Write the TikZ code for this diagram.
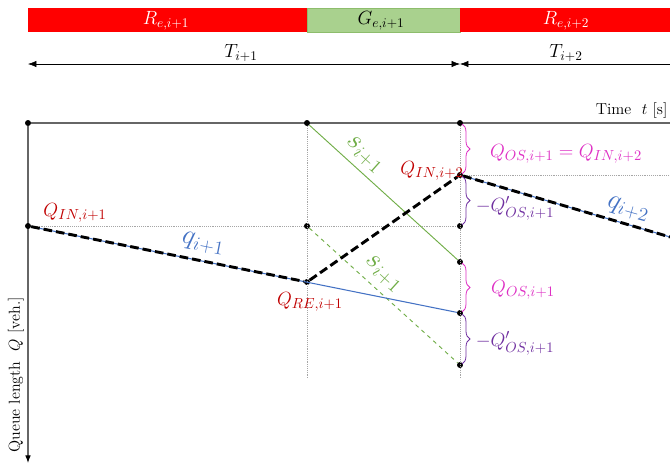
\documentclass[tikz,border=0pt]{standalone}
\usepackage{amsmath}
\usetikzlibrary{arrows.meta,decorations.pathreplacing}
\definecolor{sigred}{HTML}{FF0000}
\definecolor{siggreen}{HTML}{A9D18E}
\definecolor{lblred}{HTML}{C00000}
\definecolor{lblblue}{HTML}{4472C4}
\definecolor{lblgreen}{HTML}{70AD47}
\definecolor{lblpink}{HTML}{DE2FC4}
\definecolor{lblpurple}{HTML}{7030A0}

\begin{document}
\begin{tikzpicture}[x=0.2646mm, y=-0.2646mm,
  dot/.style={circle, fill=black, minimum size=4.5pt, inner sep=0pt},
  barlbl/.style={font=\Large, inner sep=0pt},
  lbl/.style={font=\fontsize{15}{18}\selectfont, inner sep=1pt},
  biglbl/.style={font=\huge, inner sep=1pt},
  span/.style={thin, {Latex[length=2.2mm]}-{Latex[length=2.2mm]}},
  axis/.style={gray!80!black, thick},
  grid/.style={gray!70, densely dotted, thin},
  queue/.style={black, line width=2.2pt, dash pattern=on 6.5pt off 3pt},
  arrival/.style={lblblue, line width=0.8pt},
  sat/.style={lblgreen, line width=0.7pt},
  brc/.style={decorate, decoration={brace, amplitude=6pt}, line width=0.6pt},
]

\useasboundingbox (0,0) rectangle (670,463);

\fill[sigred] (28,8) rectangle (307,32);
\filldraw[fill=siggreen, draw=lblgreen!80, line width=0.4pt] (307,8) rectangle (460,32);
\fill[sigred] (460,8) rectangle (670,32);
\node[barlbl, text=white] (r1) at (166,21) {$R_{e,i+1}$};
\node[barlbl] (g1) at (381,21) {$G_{e,i+1}$};
\node[barlbl, text=white] (r2) at (566,21) {$R_{e,i+2}$};

\coordinate (t0) at (28,64);
\coordinate (t1) at (460,64);
\coordinate (t2) at (670,64);
\draw[span] (t0) -- (t1);
\draw[thin, {Latex[length=2.2mm]}-] (t1) -- (t2);
\node[barlbl] (T1) at (241,53) {$T_{i+1}$};
\node[barlbl] (T2) at (566,53) {$T_{i+2}$};

\node[dot] (o) at (28,123) {};
\coordinate (tend) at (670,123);
\coordinate (qend) at (28,463);
\draw[axis] (o) -- (tend);
\draw[axis, -{Latex[length=2mm, black]}] (o) -- (qend);
\node[font=\large, anchor=south east, inner sep=1pt] (tlbl) at (669,120) {Time~~$t$ [s]};
\node[font=\large, rotate=90, inner sep=1pt] (qlbl) at (16,375) {Queue length~~$Q$ [veh.]};

\node[dot] (a1) at (307,123) {};
\node[dot] (a2) at (460,123) {};
\node[dot] (qin1) at (28,226) {};
\node[dot] (b1) at (307,226) {};
\node[dot] (b2) at (460,226) {};
\node[dot] (qre) at (307,282) {};
\node[dot] (qin2) at (460,175) {};
\node[dot] (c1) at (460,262) {};
\node[dot] (c2) at (460,313) {};
\node[dot] (c3) at (460,365) {};
\coordinate (a1low) at (307,378);
\coordinate (a2low) at (460,378);
\coordinate (hright) at (670,175);
\coordinate (qend2) at (670,237);

\draw[grid] (qin1) -- (b1) -- (b2);
\draw[grid] (a1) -- (a1low);
\draw[grid] (a2) -- (a2low);
\draw[grid] (qin2) -- (hright);

\draw[sat] (a1) -- (c1);
\draw[sat, dashed] (b1) -- (c3);
\draw[arrival] (qin1) -- (c2);
\draw[arrival] (qin2) -- (qend2);
\draw[queue] (qin1) -- (qre) -- (qin2) -- (qend2);

\draw[brc, lblpink] (462,124) -- (462,174);
\draw[brc, lblpurple] (462,176) -- (462,225);
\draw[brc, lblpink] (462,263) -- (462,312);
\draw[brc, lblpurple] (462,314) -- (462,364);

\node[lbl, text=lblred] (l1) at (75,213) {$Q_{IN,i+1}$};
\node[biglbl, text=lblblue, rotate=-11] (l2) at (203,244) {$q_{i+1}$};
\node[lbl, text=lblred] (l3) at (310,302) {$Q_{RE,i+1}$};
\node[lbl, text=lblred] (l4) at (432,171) {$Q_{IN,i+2}$};
\node[biglbl, text=lblgreen, rotate=-42] (l5) at (364,155) {$s_{i+1}$};
\node[biglbl, text=lblgreen, rotate=-42] (l6) at (383,274) {$s_{i+1}$};
\node[biglbl, text=lblblue, rotate=-16] (l7) at (628,209) {$q_{i+2}$};
\node[lbl, text=lblpink] (l8) at (566,154) {$Q_{OS,i+1}=Q_{IN,i+2}$};
\node[lbl, text=lblpurple] (l9) at (515,208) {$-Q'_{OS,i+1}$};
\node[lbl, text=lblpink] (l10) at (523,290) {$Q_{OS,i+1}$};
\node[lbl, text=lblpurple] (l11) at (515,343) {$-Q'_{OS,i+1}$};

\end{tikzpicture}
\end{document}
